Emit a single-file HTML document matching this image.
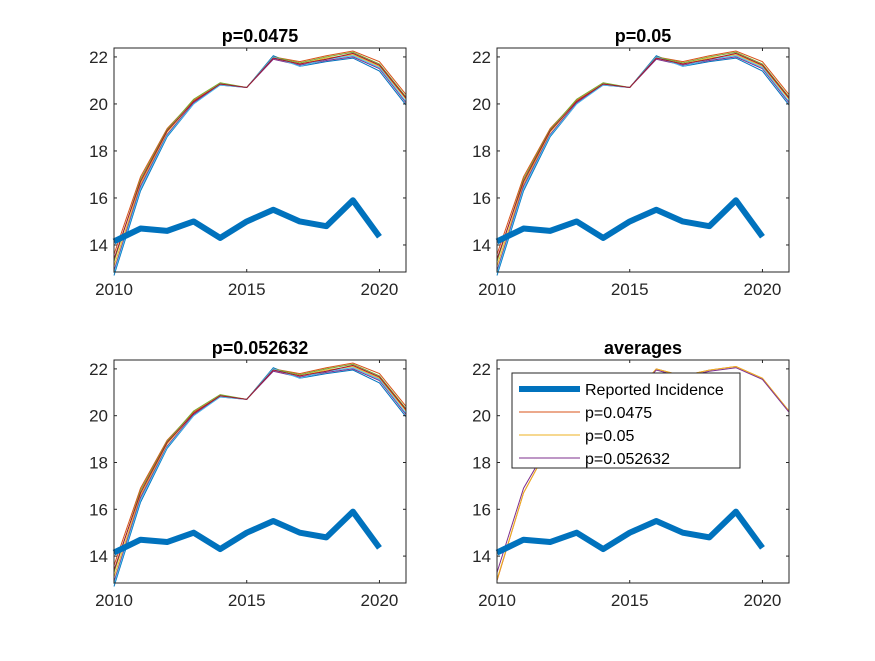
<!DOCTYPE html>
<html><head><meta charset="utf-8"><style>
body{margin:0;background:#fff;width:875px;height:656px;overflow:hidden}
svg text{font-family:"Liberation Sans",sans-serif}
</style></head><body>
<svg id="fig" width="875" height="656"></svg>
<script>
const years=[2010,2011,2012,2013,2014,2015,2016,2017,2018,2019,2020,2021];
const reportedYears=[2010,2011,2012,2013,2014,2015,2016,2017,2018,2019,2020];
const reported=[14.15,14.7,14.6,15.0,14.3,15.0,15.5,15.0,14.8,15.9,14.35];
const run1=[12.7,16.3,18.6,20.0,20.85,20.7,22.05,21.6,21.8,21.95,21.4,19.95];
const run2=[13.6,16.9,18.95,20.15,20.85,20.7,22.0,21.8,22.05,22.25,21.8,20.4];
const run3=[13.1,16.6,18.8,20.1,20.85,20.7,21.95,21.7,21.95,22.1,21.6,20.2];
const run4=[12.9,16.5,18.7,20.05,20.8,20.7,21.9,21.65,21.85,22.0,21.5,20.05];
const run5=[13.3,16.8,18.9,20.2,20.9,20.7,22.0,21.75,22.0,22.2,21.7,20.3];
const run6=[12.8,16.4,18.65,20.0,20.8,20.7,22.0,21.6,21.9,22.05,21.55,20.1];
const run7=[13.4,16.7,18.85,20.1,20.85,20.7,21.95,21.7,21.9,22.15,21.65,20.25];
const avg1=[12.95,16.7,18.8,20.1,20.85,20.7,22.0,21.7,21.95,22.1,21.6,20.2];
const avg2=[13.0,16.7,18.8,20.1,20.85,20.7,22.0,21.7,21.95,22.1,21.6,20.2];
const avg3=[13.3,16.9,18.85,20.1,20.85,20.7,21.95,21.65,21.9,22.05,21.55,20.15];
const yTicks=[14,16,18,20,22];
const xTicks=[2010,2015,2020];
const runColors=["#0072BD","#D95319","#EDB120","#7E2F8E","#77AC30","#4DBEEE","#A2142F"];
const NS="http://www.w3.org/2000/svg";
const svg=document.getElementById('fig');
function mk(t,a,p){const e=document.createElementNS(NS,t);for(const k in a)e.setAttribute(k,a[k]);(p||svg).appendChild(e);return e;}
const panels=[
 {x0:114,x1:406,y0:48,y1:272,title:"p=0.0475",name:"panel-p0475"},
 {x0:497,x1:789,y0:48,y1:272,title:"p=0.05",name:"panel-p05"},
 {x0:114,x1:406,y0:360,y1:583,title:"p=0.052632",name:"panel-p052632"},
 {x0:497,x1:789,y0:360,y1:583,title:"averages",name:"panel-averages"}];
const runs=[run1,run2,run3,run4,run5,run6,run7];
panels.forEach((P,pi)=>{
 const g=mk('g',{});
 
 
 const sx=v=>P.x0+(v-2010)/(2021-2010)*(P.x1-P.x0);
 const sy=v=>P.y1-(v-12.85)/(22.38-12.85)*(P.y1-P.y0);
 const pts=(xs,ys)=>ys.map((v,i)=>sx(xs[i])+','+sy(v)).join(' ');
 const series=pi<3?runs:[avg1,avg2,avg3];
 const cols=pi<3?runColors:["#D95319","#EDB120","#7E2F8E"];
 series.forEach((s,i)=>{const l=mk('polyline',{points:pts(years,s),fill:'none',stroke:cols[i],'stroke-width':1},g);
  
  });
 const r=mk('polyline',{points:pts(reportedYears,reported),fill:'none',stroke:'#0072BD','stroke-width':6,'stroke-linejoin':'round'},g);
 
 
 const b=mk('rect',{x:P.x0,y:P.y0,width:P.x1-P.x0,height:P.y1-P.y0,fill:'none',stroke:'#262626','stroke-width':1},g);
 
 
 yTicks.forEach(t=>{const y=sy(t);
  mk('line',{x1:P.x0,x2:P.x0+3,y1:y,y2:y,stroke:'#262626'},g);
  mk('line',{x1:P.x1,x2:P.x1-3,y1:y,y2:y,stroke:'#262626'},g);
  const tx=mk('text',{x:P.x0-6,y:y+6,'text-anchor':'end','font-size':17,fill:'#262626'},g);tx.textContent=t;
  
  });
 xTicks.forEach(t=>{const x=sx(t);
  mk('line',{x1:x,x2:x,y1:P.y1,y2:P.y1-3,stroke:'#262626'},g);
  mk('line',{x1:x,x2:x,y1:P.y0,y2:P.y0+3,stroke:'#262626'},g);
  const tx=mk('text',{x:x,y:P.y1+23,'text-anchor':'middle','font-size':17,fill:'#262626'},g);tx.textContent=t;
  
  });
 const ti=mk('text',{x:(P.x0+P.x1)/2,y:P.y0-6,'text-anchor':'middle','font-size':18,'font-weight':'bold',fill:'#000'},g);ti.textContent=P.title;
 
 
});
const lg=mk('g',{});


mk('rect',{x:512,y:373,width:228,height:95,fill:'#fff',stroke:'#262626','stroke-width':1},lg);
const entries=[["Reported Incidence","#0072BD",6],["p=0.0475","#D95319",1],["p=0.05","#EDB120",1],["p=0.052632","#7E2F8E",1]];
entries.forEach((e,i)=>{const y=389+i*23;
 const eg=mk('g',{},lg);
 
 
 mk('line',{x1:519,x2:580,y1:y,y2:y,stroke:e[1],'stroke-width':e[2]},eg);
 const t=mk('text',{x:585,y:y+6,'font-size':16,fill:'#000'},eg);t.textContent=e[0];});
</script>
</body></html>
